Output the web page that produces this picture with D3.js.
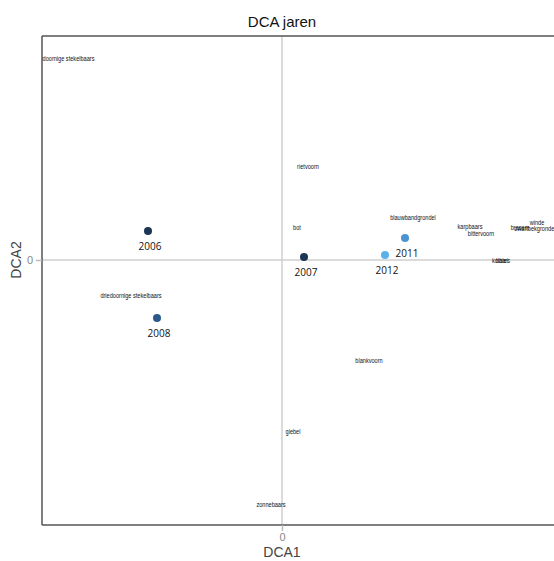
<!DOCTYPE html>
<html>
<head>
<meta charset="utf-8">
<script src="https://cdn.jsdelivr.net/npm/d3@7"></script>
<style>
  html, body { margin: 0; padding: 0; background: #fff; }
  svg { display: block; }
</style>
</head>
<body>
<svg id="chart" width="554" height="561"></svg>
<script>
// DCA ordination: sample scores per year and species scores
const years = ["2006", "2007", "2008", "2011", "2012"];
const yearDCA1 = [-1.34, 0.22, -1.25, 1.23, 1.03];
const yearDCA2 = [0.29, 0.03, -0.58, 0.22, 0.05];
const yearColors = ["#1b3554", "#1b3554", "#2b5a8a", "#4b94cf", "#5cb0ea"];

const species = [
  "tiendoornige stekelbaars", "rietvoorn", "bot", "blauwbandgrondel",
  "karpbaars", "bittervoorn", "brasem", "zwartbekgrondel", "winde",
  "kolblei", "baars", "driedoornige stekelbaars", "blankvoorn",
  "giebel", "zonnebaars"
];
const speciesDCA1 = [-2.18, 0.26, 0.15, 1.31, 1.88, 1.99, 2.38, 2.53, 2.55,
  2.18, 2.21, -1.51, 0.87, 0.11, -0.11];
const speciesDCA2 = [2.02, 0.94, 0.33, 0.43, 0.34, 0.27, 0.33, 0.32, 0.38,
  0.0, 0.0, -0.35, -1.0, -1.71, -2.44];

const xTicks = [0];
const yTicks = [0];

(function () {
  const svg = d3.select("#chart");
  const mLeft = 42, mTop = 36, mBottom = 525, mRight = 600;

  const x = d3.scaleLinear().domain([-2.4, 3.18]).range([mLeft, mRight]);
  const y = d3.scaleLinear().domain([-2.65, 2.24]).range([mBottom, mTop]);

  // clipping region for the plot area
  svg.append("defs").append("clipPath").attr("id", "plotclip")
    .append("rect").attr("x", mLeft).attr("y", mTop)
    .attr("width", mRight - mLeft).attr("height", mBottom - mTop);

  // title
  svg.append("text").attr("x", 282).attr("y", 27)
    .attr("text-anchor", "middle")
    .style("font-family", "Liberation Sans, Arial, sans-serif")
    .style("font-size", "15px").attr("fill", "#111")
    .text("DCA jaren");

  const plot = svg.append("g").attr("clip-path", "url(#plotclip)");

  // zero reference lines
  plot.append("line").attr("x1", x(0)).attr("x2", x(0))
    .attr("y1", mTop).attr("y2", mBottom)
    .attr("stroke", "#cfcfcf").attr("stroke-width", 1.5);
  plot.append("line").attr("x1", mLeft).attr("x2", mRight)
    .attr("y1", y(0)).attr("y2", y(0))
    .attr("stroke", "#cfcfcf").attr("stroke-width", 1.5);

  // species labels
  const labelSize = 7;
  plot.selectAll("text.sp").data(species).join("text")
    .attr("class", "sp")
    .attr("transform", (d, i) => `translate(${x(speciesDCA1[i])},${y(speciesDCA2[i]) + 2.5}) scale(0.8,1)`)
    .attr("text-anchor", "middle")
    .style("font-family", "Liberation Sans, Arial, sans-serif")
    .style("font-size", labelSize + "px")
    .attr("fill", "#111")
    .text(d => d);

  // year points
  plot.selectAll("circle.yr").data(years).join("circle")
    .attr("class", "yr")
    .attr("cx", (d, i) => x(yearDCA1[i]))
    .attr("cy", (d, i) => y(yearDCA2[i]))
    .attr("r", 4)
    .attr("fill", (d, i) => yearColors[i]);

  plot.selectAll("text.yr").data(years).join("text")
    .attr("class", "yr")
    .attr("x", (d, i) => x(yearDCA1[i]) + 2)
    .attr("y", (d, i) => y(yearDCA2[i]) + 19)
    .attr("text-anchor", "middle")
    .style("font-family", "Open Sans, Liberation Sans, sans-serif")
    .style("font-size", "10px")
    .attr("fill", "#111")
    .text(d => d);

  // frame: left, bottom, top
  const frame = svg.append("g");
  frame.append("line").attr("x1", mLeft).attr("x2", mLeft).attr("y1", mTop).attr("y2", mBottom)
    .attr("stroke", "#555").attr("stroke-width", 1.5);
  frame.append("line").attr("x1", mLeft).attr("x2", 554).attr("y1", mBottom).attr("y2", mBottom)
    .attr("stroke", "#555").attr("stroke-width", 1.5);
  frame.append("line").attr("x1", mLeft).attr("x2", 554).attr("y1", mTop).attr("y2", mTop)
    .attr("stroke", "#555").attr("stroke-width", 1.5);

  // axes
  const xAxis = svg.append("g").attr("transform", `translate(0,${mBottom})`)
    .call(d3.axisBottom(x).tickValues(xTicks).tickSize(6).tickPadding(2).tickFormat(d3.format("d")));
  const yAxis = svg.append("g").attr("transform", `translate(${mLeft},0)`)
    .call(d3.axisLeft(y).tickValues(yTicks).tickSize(6).tickPadding(3).tickFormat(d3.format("d")));
  [xAxis, yAxis].forEach(a => {
    a.select(".domain").remove();
    a.selectAll(".tick line").attr("stroke", "#bbb").attr("stroke-width", 1.5);
    a.selectAll(".tick text").attr("fill", "#888")
      .style("font-family", "Liberation Sans, Arial, sans-serif").style("font-size", "11px");
  });

  // axis titles
  svg.append("text").attr("x", 282).attr("y", 557)
    .attr("text-anchor", "middle")
    .style("font-family", "Liberation Sans, Arial, sans-serif")
    .style("font-size", "14px").attr("fill", "#444")
    .text("DCA1");
  svg.append("text")
    .attr("transform", `translate(21,${y(0)}) rotate(-90)`)
    .attr("text-anchor", "middle")
    .style("font-family", "Liberation Sans, Arial, sans-serif")
    .style("font-size", "14px").attr("fill", "#444")
    .text("DCA2");
})();
</script>
</body>
</html>
